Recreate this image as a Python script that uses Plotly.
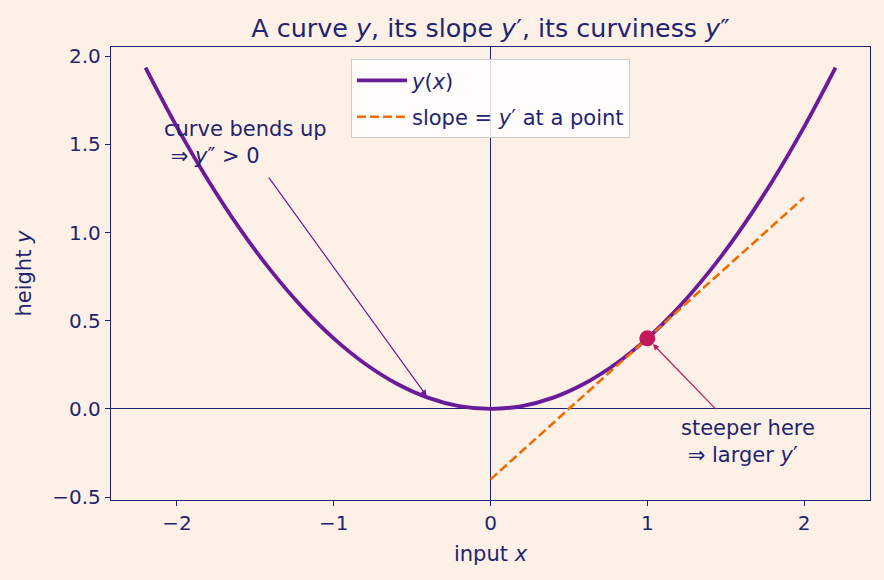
import plotly.graph_objects as go

# Data
curve_x = [-2.2, -2.0, -1.8, -1.6, -1.4, -1.2, -1.0, -0.8, -0.6, -0.4, -0.2, 0.0,
           0.2, 0.4, 0.6, 0.8, 1.0, 1.2, 1.4, 1.6, 1.8, 2.0, 2.2]
curve_y = [1.936, 1.6, 1.296, 1.024, 0.784, 0.576, 0.4, 0.256, 0.144, 0.064, 0.016, 0.0,
           0.016, 0.064, 0.144, 0.256, 0.4, 0.576, 0.784, 1.024, 1.296, 1.6, 1.936]
tangent_x = [0.0, 2.0]
tangent_y = [-0.4, 1.2]
point_x = [1.0]
point_y = [0.4]
x_ticks = [-2, -1, 0, 1, 2]
y_ticks = [-0.5, 0.0, 0.5, 1.0, 1.5, 2.0]
y_tick_text = ["\u22120.5", "0.0", "0.5", "1.0", "1.5", "2.0"]
x_tick_text = ["\u22122", "\u22121", "0", "1", "2"]

NAVY = "#1f2470"
BG = "#fdf1e7"
PURPLE = "#6a1b9a"
ORANGE = "#ef6c00"
CRIMSON = "#c2185b"
FONT = "DejaVu Sans"

fig = go.Figure()
fig.add_trace(go.Scatter(x=curve_x, y=curve_y, mode="lines", name="<i>y</i>(<i>x</i>)",
                         legendgroup="a",
                         line=dict(color=PURPLE, width=3.8, shape="spline")))
fig.add_trace(go.Scatter(x=tangent_x, y=tangent_y, mode="lines",
                         name="slope = <i>y</i>\u2032 at a point", legendgroup="b",
                         line=dict(color=ORANGE, width=2.6, dash="9px,4px")))
fig.add_trace(go.Scatter(x=point_x, y=point_y, mode="markers", showlegend=False,
                         marker=dict(color=CRIMSON, size=16)))

annotations = [
    dict(x=-0.4, y=0.064, ax=-1.42, ay=1.32, xref="x", yref="y", axref="x", ayref="y",
         text="", showarrow=True, arrowhead=2, arrowsize=1, arrowwidth=1.2,
         arrowcolor=PURPLE, standoff=2),
    dict(x=point_x[0], y=point_y[0], ax=1.446, ay=-0.01, xref="x", yref="y", axref="x", ayref="y",
         text="", showarrow=True, arrowhead=2, arrowsize=1, arrowwidth=1.2,
         arrowcolor=CRIMSON, standoff=8),
    dict(x=-2.095, y=1.514, xref="x", yref="y", xanchor="left", yanchor="middle", align="left",
         text="curve bends up<br> \u21d2 <i>y</i>\u2033 > 0", showarrow=False,
         font=dict(family=FONT, size=21, color=NAVY)),
    dict(x=1.2, y=-0.185, xref="x", yref="y", xanchor="left", yanchor="middle", align="left",
         text="steeper here<br> \u21d2 larger <i>y</i>\u2032", showarrow=False,
         font=dict(family=FONT, size=21, color=NAVY)),
]

axis_common = dict(showgrid=False, zeroline=True, zerolinecolor=NAVY, zerolinewidth=0.8,
                   showline=True, linecolor=NAVY, linewidth=1.3, mirror=True,
                   ticks="outside", ticklen=5, tickwidth=1.3, tickcolor=NAVY,
                   tickfont=dict(family=FONT, size=20, color=NAVY))

fig.update_layout(
    width=884, height=580,
    paper_bgcolor=BG, plot_bgcolor=BG,
    margin=dict(l=111, r=14, t=47, b=80),
    font=dict(family=FONT, color=NAVY, size=20),
    title=dict(text="A curve <i>y</i>, its slope <i>y</i>\u2032, its curviness <i>y</i>\u2033",
               x=0.5, xref="paper", xanchor="center", y=1 - 28 / 580, yref="container",
               yanchor="middle",
               font=dict(family=FONT, size=25.4, color=NAVY)),
    xaxis=dict(range=[-2.42, 2.42], tickvals=x_ticks, ticktext=x_tick_text,
               title=dict(text="input <i>x</i>", font=dict(family=FONT, size=21, color=NAVY), standoff=12),
               **axis_common),
    yaxis=dict(range=[-0.517, 2.053], tickvals=y_ticks, ticktext=y_tick_text,
               title=dict(text="height <i>y</i>", font=dict(family=FONT, size=21, color=NAVY), standoff=14),
               **axis_common),
    legend=dict(x=0.5, xanchor="center", y=0.973, yanchor="top",
                bgcolor="rgba(255,255,255,0.85)", bordercolor="#cccccc", borderwidth=1,
                font=dict(family=FONT, size=21, color=NAVY), itemwidth=50,
                tracegroupgap=6),
    annotations=annotations,
    showlegend=True,
)

fig.write_html("out.html")
